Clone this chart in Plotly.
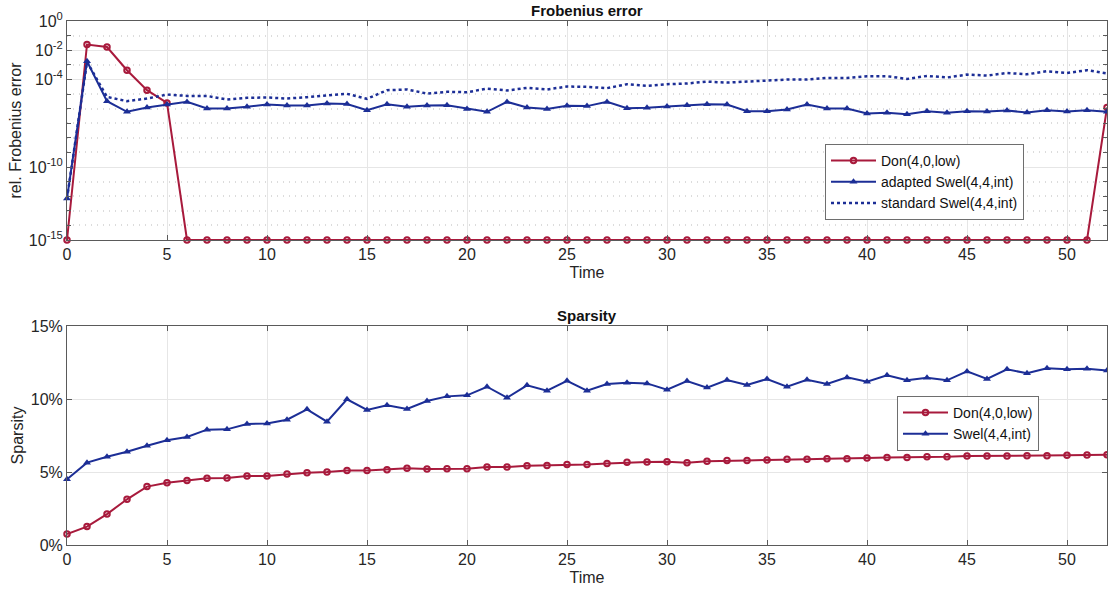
import plotly.graph_objects as go

# ---------------- data ----------------
time = list(range(53))

# Frobenius error (log10 of relative error)
don_err_log10 = [-15, -1.61, -1.78, -3.37, -4.74, -5.61] + [-15] * 46 + [-5.92]
adapted_err_log10 = [-12.15, -2.76, -5.49, -6.22, -5.92, -5.72, -5.54, -5.99, -5.99, -5.88,
                     -5.72, -5.79, -5.79, -5.65, -5.68, -6.11, -5.70, -5.88, -5.79, -5.77,
                     -6.02, -6.22, -5.54, -5.92, -6.02, -5.81, -5.83, -5.54, -5.97, -5.95,
                     -5.86, -5.77, -5.70, -5.72, -6.18, -6.18, -6.06, -5.72, -5.99, -5.99,
                     -6.34, -6.29, -6.38, -6.18, -6.29, -6.18, -6.20, -6.13, -6.27, -6.11,
                     -6.20, -6.11, -6.22]
standard_err_log10 = [-12.15, -2.80, -5.20, -5.49, -5.31, -5.04, -5.13, -5.13, -5.38, -5.26,
                      -5.24, -5.31, -5.22, -5.11, -4.99, -5.33, -4.74, -4.69, -4.97, -4.85,
                      -4.88, -4.63, -4.76, -4.58, -4.69, -4.49, -4.51, -4.60, -4.33, -4.44,
                      -4.33, -4.28, -4.15, -4.22, -4.15, -4.10, -4.01, -4.01, -3.90, -3.90,
                      -3.78, -3.78, -3.97, -3.76, -3.87, -3.67, -3.74, -3.56, -3.65, -3.44,
                      -3.56, -3.37, -3.60]

# Sparsity (%)
don_sparsity = [0.75, 1.26, 2.12, 3.13, 4.00, 4.27, 4.41, 4.57, 4.59, 4.73,
                4.73, 4.86, 4.95, 5.00, 5.11, 5.11, 5.16, 5.25, 5.21, 5.23,
                5.23, 5.34, 5.34, 5.43, 5.45, 5.52, 5.52, 5.59, 5.66, 5.68,
                5.71, 5.64, 5.73, 5.78, 5.78, 5.82, 5.87, 5.87, 5.91, 5.91,
                5.96, 6.00, 6.00, 6.05, 6.05, 6.10, 6.10, 6.10, 6.12, 6.12,
                6.14, 6.16, 6.18]
swel_sparsity = [4.50, 5.64, 6.05, 6.39, 6.80, 7.17, 7.40, 7.90, 7.92, 8.29,
                 8.33, 8.58, 9.29, 8.45, 9.98, 9.25, 9.57, 9.32, 9.86, 10.18,
                 10.25, 10.84, 10.09, 10.94, 10.57, 11.25, 10.57, 11.03, 11.12, 11.07,
                 10.64, 11.23, 10.78, 11.30, 10.96, 11.37, 10.84, 11.32, 11.03, 11.48,
                 11.19, 11.62, 11.28, 11.46, 11.28, 11.89, 11.37, 12.03, 11.76, 12.10,
                 12.03, 12.08, 11.96]

err_tickvals = [1e0, 1e-2, 1e-4, 1e-10, 1e-15]
err_ticktext = ["10<sup>0</sup>", "10<sup>-2</sup>", "10<sup>-4</sup>", "10<sup>-10</sup>", "10<sup>-15</sup>"]
err_minorvals = [10.0 ** -k for k in range(1, 15) if k not in (2, 4, 10)]
sparsity_tickvals = [0, 5, 10, 15]
sparsity_ticktext = ["0%", "5%", "10%", "15%"]
x_ticks = list(range(0, 55, 5))

RED = "#A81A3C"
BLUE = "#1C2E96"
FONT = "Liberation Sans, Arial, Helvetica, sans-serif"
AXC = "#5a5a5a"
GRID = "#e6e6e6"
TXT = "#262626"

don_err = [10.0 ** v for v in don_err_log10]
adapted_err = [10.0 ** v for v in adapted_err_log10]
standard_err = [10.0 ** v for v in standard_err_log10]

fig = go.Figure()
fig.add_trace(go.Scatter(x=time, y=don_err, name="Don(4,0,low)", mode="lines+markers",
                         line=dict(color=RED, width=2),
                         marker=dict(symbol="circle-open", size=5.5, line=dict(width=2, color=RED)),
                         cliponaxis=False, xaxis="x", yaxis="y", legend="legend"))
fig.add_trace(go.Scatter(x=time, y=adapted_err, name="adapted Swel(4,4,int)", mode="lines+markers",
                         line=dict(color=BLUE, width=2),
                         marker=dict(symbol="triangle-up", size=7, color=BLUE),
                         cliponaxis=False, xaxis="x", yaxis="y", legend="legend"))
fig.add_trace(go.Scatter(x=time, y=standard_err, name="standard Swel(4,4,int)", mode="lines",
                         line=dict(color=BLUE, width=2.5, dash="dot"),
                         cliponaxis=False, xaxis="x", yaxis="y", legend="legend"))

fig.add_trace(go.Scatter(x=time, y=don_sparsity, name="Don(4,0,low)", mode="lines+markers",
                         line=dict(color=RED, width=2),
                         marker=dict(symbol="circle-open", size=5.5, line=dict(width=2, color=RED)),
                         cliponaxis=False, xaxis="x2", yaxis="y2", legend="legend2"))
fig.add_trace(go.Scatter(x=time, y=swel_sparsity, name="Swel(4,4,int)", mode="lines+markers",
                         line=dict(color=BLUE, width=2),
                         marker=dict(symbol="triangle-up", size=7, color=BLUE),
                         cliponaxis=False, xaxis="x2", yaxis="y2", legend="legend2"))

W, H = 1108, 591
ML, MR, MT, MB = 67, 1, 21, 46
ph = H - MT - MB
top_dom = [(545 - 240) / ph, 1.0]
bot_dom = [0.0, (545 - 326) / ph]

TICKFONT = dict(size=16, color=TXT, family=FONT)
TITLEFONT = dict(size=16, color=TXT, family=FONT)

xcommon = dict(range=[0, 52], tickvals=x_ticks, ticks="inside", ticklen=5, tickcolor=AXC,
               showline=True, linecolor=AXC, linewidth=1, mirror="ticks",
               showgrid=True, gridcolor=GRID, gridwidth=1, zeroline=False,
               tickfont=TICKFONT,
               title=dict(text="Time", font=TITLEFONT, standoff=4))

fig.update_layout(
    width=W, height=H,
    margin=dict(l=ML, r=MR, t=MT, b=MB),
    paper_bgcolor="white", plot_bgcolor="white",
    font=dict(family=FONT, color=TXT),
    showlegend=True,
    xaxis=dict(domain=[0, 1], anchor="y", **xcommon),
    yaxis=dict(domain=top_dom, anchor="x", type="log", range=[-15, 0],
               tickvals=err_tickvals, ticktext=err_ticktext,
               ticks="inside", ticklen=5, tickcolor=AXC,
               showline=True, linecolor=AXC, linewidth=1, mirror="ticks",
               showgrid=True, gridcolor=GRID, zeroline=False,
               minor=dict(tickvals=err_minorvals, ticks="inside", ticklen=4, tickcolor=AXC,
                          showgrid=True, gridcolor="#dcdcdc", griddash="1px,5px", gridwidth=1.5),
               tickfont=TICKFONT,
               title=dict(text="rel. Frobenius error", font=TITLEFONT, standoff=3)),
    xaxis2=dict(domain=[0, 1], anchor="y2", **xcommon),
    yaxis2=dict(domain=bot_dom, anchor="x2", range=[0, 15],
                tickvals=sparsity_tickvals, ticktext=sparsity_ticktext,
                ticks="inside", ticklen=5, tickcolor=AXC,
                showline=True, linecolor=AXC, linewidth=1, mirror="ticks",
                showgrid=True, gridcolor=GRID, zeroline=False,
                tickfont=TICKFONT,
                title=dict(text="Sparsity", font=TITLEFONT, standoff=3)),
    legend=dict(x=(825 - ML) / 1040, y=(545 - 144) / ph, xanchor="left", yanchor="top",
                bgcolor="white", bordercolor="#6e6e6e", borderwidth=1,
                font=dict(size=14, color="#111111", family=FONT), tracegroupgap=0,
                itemwidth=45),
    legend2=dict(x=(897 - ML) / 1040, y=(545 - 396) / ph, xanchor="left", yanchor="top",
                 bgcolor="white", bordercolor="#6e6e6e", borderwidth=1,
                 font=dict(size=14, color="#111111", family=FONT), tracegroupgap=0,
                 itemwidth=45),
    annotations=[
        dict(text="<b>Frobenius error</b>", xref="paper", yref="paper", x=0.5, y=top_dom[1],
             xanchor="center", yanchor="bottom", showarrow=False, yshift=0,
             font=dict(size=15, color="#111111", family=FONT)),
        dict(text="<b>Sparsity</b>", xref="paper", yref="paper", x=0.5, y=bot_dom[1],
             xanchor="center", yanchor="bottom", showarrow=False, yshift=0,
             font=dict(size=15, color="#111111", family=FONT)),
    ],
)

fig.write_html("out.html")
